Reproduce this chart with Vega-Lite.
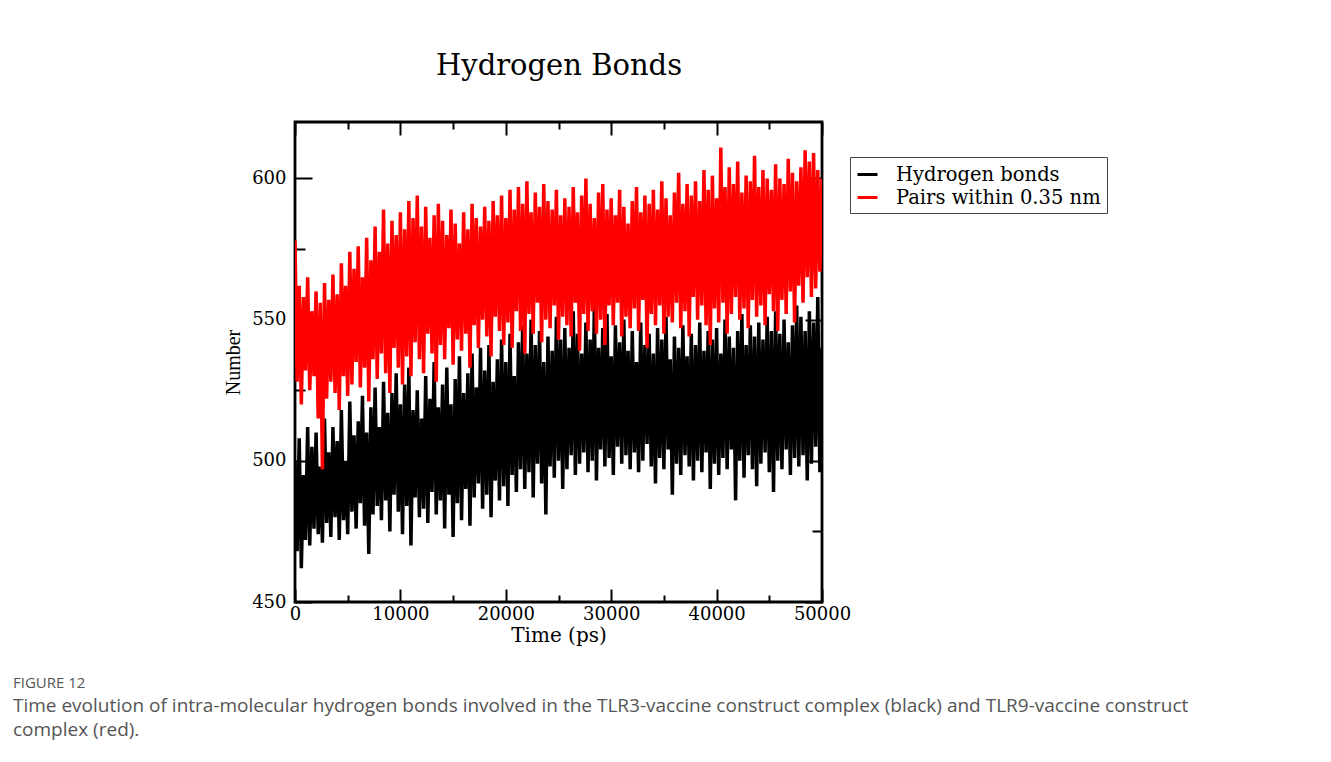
{
  "$schema": "https://vega.github.io/schema/vega-lite/v6.json",
  "width": 527,
  "height": 480,
  "autosize": {"type": "none"},
  "padding": {"left": 295, "top": 122, "right": 509, "bottom": 160},
  "background": "white",
  "config": {
    "view": {"stroke": "#000000", "strokeWidth": 2.8},
    "axis": {"grid": false, "domain": false, "labelFont": "DejaVu Serif", "titleFont": "DejaVu Serif", "labelColor": "#000000", "titleColor": "#000000", "tickColor": "#000000", "tickWidth": 2, "titleFontWeight": "normal", "labelOverlap": false, "labelFlush": false}
  },
  "title": {
    "text": "FIGURE 12",
    "subtitle": ["Time evolution of intra-molecular hydrogen bonds involved in the TLR3-vaccine construct complex (black) and TLR9-vaccine construct", "complex (red)."],
    "orient": "bottom",
    "anchor": "start",
    "frame": "group",
    "dx": -282,
    "offset": 31,
    "font": "Open Sans",
    "fontSize": 15,
    "fontWeight": "normal",
    "color": "#555555",
    "subtitleFont": "Open Sans",
    "subtitleFontSize": 19,
    "subtitleColor": "#555555",
    "subtitleLineHeight": 24,
    "subtitlePadding": 6
  },
  "datasets": {
    "hb": [
      {"t":0,"h":500,"p":578},{"t":200,"h":468,"p":528},{"t":400,"h":508,"p":562},{"t":600,"h":462,"p":520},{"t":800,"h":495,"p":558},{"t":1000,"h":472,"p":532},{"t":1200,"h":512,"p":565},{"t":1400,"h":470,"p":525},{"t":1600,"h":505,"p":553},{"t":1800,"h":476,"p":530},
      {"t":2000,"h":510,"p":560},{"t":2200,"h":474,"p":515},{"t":2400,"h":498,"p":556},{"t":2600,"h":471,"p":497},{"t":2800,"h":515,"p":563},{"t":3000,"h":478,"p":522},{"t":3200,"h":503,"p":557},{"t":3400,"h":473,"p":528},{"t":3600,"h":512,"p":566},{"t":3800,"h":480,"p":524},
      {"t":4000,"h":507,"p":559},{"t":4200,"h":472,"p":518},{"t":4400,"h":518,"p":570},{"t":4600,"h":479,"p":530},{"t":4800,"h":500,"p":562},{"t":5000,"h":474,"p":523},{"t":5200,"h":521,"p":574},{"t":5400,"h":482,"p":527},{"t":5600,"h":509,"p":568},{"t":5800,"h":476,"p":535},
      {"t":6000,"h":514,"p":576},{"t":6200,"h":485,"p":526},{"t":6400,"h":523,"p":565},{"t":6600,"h":477,"p":533},{"t":6800,"h":510,"p":579},{"t":7000,"h":467,"p":521},{"t":7200,"h":519,"p":571},{"t":7400,"h":481,"p":536},{"t":7600,"h":526,"p":583},{"t":7800,"h":484,"p":529},
      {"t":8000,"h":512,"p":574},{"t":8200,"h":479,"p":538},{"t":8400,"h":528,"p":589},{"t":8600,"h":486,"p":531},{"t":8800,"h":517,"p":577},{"t":9000,"h":475,"p":524},{"t":9200,"h":524,"p":585},{"t":9400,"h":488,"p":540},{"t":9600,"h":531,"p":580},{"t":9800,"h":482,"p":533},
      {"t":10000,"h":520,"p":588},{"t":10200,"h":474,"p":527},{"t":10400,"h":527,"p":582},{"t":10600,"h":484,"p":537},{"t":10800,"h":533,"p":592},{"t":11000,"h":470,"p":530},{"t":11200,"h":518,"p":586},{"t":11400,"h":487,"p":542},{"t":11600,"h":525,"p":594},{"t":11800,"h":480,"p":536},
      {"t":12000,"h":515,"p":583},{"t":12200,"h":483,"p":531},{"t":12400,"h":530,"p":590},{"t":12600,"h":478,"p":545},{"t":12800,"h":522,"p":579},{"t":13000,"h":489,"p":538},{"t":13200,"h":535,"p":587},{"t":13400,"h":481,"p":528},{"t":13600,"h":519,"p":591},{"t":13800,"h":486,"p":541},
      {"t":14000,"h":527,"p":585},{"t":14200,"h":476,"p":536},{"t":14400,"h":533,"p":580},{"t":14600,"h":488,"p":547},{"t":14800,"h":520,"p":589},{"t":15000,"h":473,"p":534},{"t":15200,"h":529,"p":584},{"t":15400,"h":485,"p":543},{"t":15600,"h":537,"p":577},{"t":15800,"h":479,"p":539},
      {"t":16000,"h":524,"p":588},{"t":16200,"h":490,"p":545},{"t":16400,"h":531,"p":582},{"t":16600,"h":477,"p":533},{"t":16800,"h":538,"p":591},{"t":17000,"h":487,"p":548},{"t":17200,"h":526,"p":586},{"t":17400,"h":492,"p":540},{"t":17600,"h":540,"p":583},{"t":17800,"h":483,"p":550},
      {"t":18000,"h":532,"p":590},{"t":18200,"h":488,"p":544},{"t":18400,"h":541,"p":585},{"t":18600,"h":480,"p":537},{"t":18800,"h":528,"p":592},{"t":19000,"h":493,"p":551},{"t":19200,"h":536,"p":587},{"t":19400,"h":486,"p":546},{"t":19600,"h":543,"p":594},{"t":19800,"h":491,"p":541},
      {"t":20000,"h":535,"p":586},{"t":20200,"h":484,"p":549},{"t":20400,"h":545,"p":596},{"t":20600,"h":495,"p":540},{"t":20800,"h":530,"p":589},{"t":21000,"h":489,"p":553},{"t":21200,"h":542,"p":597},{"t":21400,"h":497,"p":546},{"t":21600,"h":548,"p":591},{"t":21800,"h":490,"p":538},
      {"t":22000,"h":538,"p":599},{"t":22200,"h":496,"p":552},{"t":22400,"h":550,"p":588},{"t":22600,"h":487,"p":545},{"t":22800,"h":541,"p":595},{"t":23000,"h":499,"p":556},{"t":23200,"h":546,"p":590},{"t":23400,"h":492,"p":542},{"t":23600,"h":535,"p":598},{"t":23800,"h":481,"p":550},
      {"t":24000,"h":544,"p":592},{"t":24200,"h":498,"p":547},{"t":24400,"h":539,"p":589},{"t":24600,"h":494,"p":555},{"t":24800,"h":551,"p":596},{"t":25000,"h":500,"p":543},{"t":25200,"h":543,"p":587},{"t":25400,"h":490,"p":551},{"t":25600,"h":547,"p":593},{"t":25800,"h":497,"p":548},
      {"t":26000,"h":540,"p":590},{"t":26200,"h":502,"p":544},{"t":26400,"h":553,"p":597},{"t":26600,"h":495,"p":556},{"t":26800,"h":545,"p":588},{"t":27000,"h":499,"p":539},{"t":27200,"h":538,"p":594},{"t":27400,"h":503,"p":552},{"t":27600,"h":549,"p":600},{"t":27800,"h":496,"p":546},
      {"t":28000,"h":543,"p":591},{"t":28200,"h":500,"p":553},{"t":28400,"h":555,"p":586},{"t":28600,"h":493,"p":545},{"t":28800,"h":540,"p":595},{"t":29000,"h":504,"p":550},{"t":29200,"h":547,"p":598},{"t":29400,"h":498,"p":541},{"t":29600,"h":552,"p":589},{"t":29800,"h":501,"p":555},
      {"t":30000,"h":537,"p":593},{"t":30200,"h":495,"p":548},{"t":30400,"h":548,"p":587},{"t":30600,"h":505,"p":556},{"t":30800,"h":542,"p":596},{"t":31000,"h":499,"p":544},{"t":31200,"h":550,"p":590},{"t":31400,"h":502,"p":551},{"t":31600,"h":539,"p":584},{"t":31800,"h":497,"p":547},
      {"t":32000,"h":546,"p":592},{"t":32200,"h":503,"p":554},{"t":32400,"h":535,"p":597},{"t":32600,"h":496,"p":546},{"t":32800,"h":549,"p":588},{"t":33000,"h":500,"p":557},{"t":33200,"h":541,"p":594},{"t":33400,"h":506,"p":540},{"t":33600,"h":545,"p":591},{"t":33800,"h":498,"p":552},
      {"t":34000,"h":538,"p":596},{"t":34200,"h":492,"p":548},{"t":34400,"h":547,"p":589},{"t":34600,"h":501,"p":555},{"t":34800,"h":543,"p":599},{"t":35000,"h":497,"p":545},{"t":35200,"h":551,"p":593},{"t":35400,"h":504,"p":551},{"t":35600,"h":536,"p":587},{"t":35800,"h":488,"p":549},
      {"t":36000,"h":544,"p":595},{"t":36200,"h":499,"p":556},{"t":36400,"h":540,"p":602},{"t":36600,"h":495,"p":547},{"t":36800,"h":548,"p":591},{"t":37000,"h":502,"p":553},{"t":37200,"h":537,"p":598},{"t":37400,"h":498,"p":544},{"t":37600,"h":545,"p":594},{"t":37800,"h":493,"p":558},
      {"t":38000,"h":541,"p":599},{"t":38200,"h":500,"p":550},{"t":38400,"h":549,"p":592},{"t":38600,"h":496,"p":555},{"t":38800,"h":539,"p":603},{"t":39000,"h":503,"p":548},{"t":39200,"h":546,"p":596},{"t":39400,"h":490,"p":541},{"t":39600,"h":543,"p":601},{"t":39800,"h":499,"p":554},
      {"t":40000,"h":547,"p":593},{"t":40200,"h":495,"p":549},{"t":40400,"h":538,"p":611},{"t":40600,"h":501,"p":556},{"t":40800,"h":550,"p":597},{"t":41000,"h":497,"p":545},{"t":41200,"h":544,"p":604},{"t":41400,"h":504,"p":552},{"t":41600,"h":540,"p":598},{"t":41800,"h":486,"p":558},
      {"t":42000,"h":546,"p":606},{"t":42200,"h":500,"p":550},{"t":42400,"h":552,"p":595},{"t":42600,"h":494,"p":554},{"t":42800,"h":541,"p":601},{"t":43000,"h":502,"p":547},{"t":43200,"h":548,"p":599},{"t":43400,"h":497,"p":557},{"t":43600,"h":544,"p":608},{"t":43800,"h":491,"p":551},
      {"t":44000,"h":549,"p":597},{"t":44200,"h":499,"p":555},{"t":44400,"h":543,"p":603},{"t":44600,"h":503,"p":548},{"t":44800,"h":551,"p":600},{"t":45000,"h":496,"p":559},{"t":45200,"h":546,"p":596},{"t":45400,"h":489,"p":553},{"t":45600,"h":553,"p":605},{"t":45800,"h":500,"p":546},
      {"t":46000,"h":545,"p":600},{"t":46200,"h":497,"p":557},{"t":46400,"h":550,"p":598},{"t":46600,"h":504,"p":552},{"t":46800,"h":542,"p":607},{"t":47000,"h":495,"p":560},{"t":47200,"h":548,"p":602},{"t":47400,"h":501,"p":549},{"t":47600,"h":555,"p":599},{"t":47800,"h":498,"p":562},
      {"t":48000,"h":551,"p":604},{"t":48200,"h":502,"p":556},{"t":48400,"h":546,"p":610},{"t":48600,"h":493,"p":565},{"t":48800,"h":553,"p":606},{"t":49000,"h":499,"p":558},{"t":49200,"h":549,"p":609},{"t":49400,"h":505,"p":561},{"t":49600,"h":558,"p":603},{"t":49800,"h":496,"p":567},
      {"t":50000,"h":540,"p":600}
    ],
    "ax": [{"t":0,"v":450}]
  },
  "layer": [
    {
      "data": {"name": "hb"},
      "transform": [{"fold": ["h", "p"], "as": ["s", "v"]}],
      "mark": {"type": "line", "strokeWidth": 3.5, "strokeJoin": "bevel", "clip": true},
      "encoding": {
        "x": {"field": "t", "type": "quantitative", "scale": {"domain": [0, 50000], "nice": false, "zero": false},
              "axis": {"orient": "bottom", "values": [0, 10000, 20000, 30000, 40000, 50000], "format": "d", "ticks": false, "labelPadding": 3, "labelFontSize": 18, "title": "Time (ps)", "titleFontSize": 20, "titlePadding": 2}},
        "y": {"field": "v", "type": "quantitative", "scale": {"domain": [450, 620], "nice": false, "zero": false},
              "axis": {"orient": "left", "values": [450, 500, 550, 600], "format": "d", "ticks": false, "labelPadding": 9, "labelFontSize": 18, "title": "Number", "titleFont": "Liberation Serif", "titleFontSize": 20, "titlePadding": 8}},
        "color": {"field": "s", "type": "nominal", "scale": {"domain": ["h", "p"], "range": ["#000000", "#ff0000"]},
                  "legend": {"title": null, "orient": "none", "legendX": 555, "legendY": 35, "symbolType": "stroke", "symbolStrokeWidth": 3, "symbolSize": 400, "labelFont": "DejaVu Serif", "labelFontSize": 19.5, "labelColor": "#000000", "labelExpr": "datum.label == 'h' ? 'Hydrogen bonds' : 'Pairs within 0.35 nm'", "strokeColor": "#444444", "fillColor": "#ffffff", "padding": 6, "rowPadding": 2, "labelOffset": 17, "labelLimit": 0}}
      }
    },
    {
      "data": {"name": "ax"},
      "mark": {"type": "point", "opacity": 0},
      "encoding": {
        "x": {"field": "t", "type": "quantitative", "axis": {"orient": "bottom", "values": [0, 10000, 20000, 30000, 40000, 50000], "labels": false, "tickSize": -13, "title": null}},
        "y": {"field": "v", "type": "quantitative", "axis": {"orient": "left", "values": [450, 500, 550, 600], "labels": false, "tickSize": -17, "title": null}}
      }
    },
    {
      "data": {"name": "ax"},
      "mark": {"type": "point", "opacity": 0},
      "encoding": {
        "x": {"field": "t", "type": "quantitative", "axis": {"orient": "bottom", "values": [5000, 15000, 25000, 35000, 45000], "labels": false, "tickSize": -7, "title": null}},
        "y": {"field": "v", "type": "quantitative", "axis": {"orient": "left", "values": [475, 525, 575], "labels": false, "tickSize": -10, "title": null}}
      }
    },
    {
      "data": {"name": "ax"},
      "mark": {"type": "point", "opacity": 0},
      "encoding": {
        "x": {"field": "t", "type": "quantitative", "axis": {"orient": "top", "values": [0, 10000, 20000, 30000, 40000, 50000], "labels": false, "tickSize": -13, "title": "Hydrogen Bonds", "titleFontSize": 29, "titlePadding": 41}},
        "y": {"field": "v", "type": "quantitative", "axis": {"orient": "right", "values": [450, 500, 550, 600], "labels": false, "tickSize": -17, "title": null}}
      }
    },
    {
      "data": {"name": "ax"},
      "mark": {"type": "point", "opacity": 0},
      "encoding": {
        "x": {"field": "t", "type": "quantitative", "axis": {"orient": "top", "values": [5000, 15000, 25000, 35000, 45000], "labels": false, "tickSize": -7, "title": null}},
        "y": {"field": "v", "type": "quantitative", "axis": {"orient": "right", "values": [475, 525, 575], "labels": false, "tickSize": -10, "title": null}}
      }
    }
  ],
  "resolve": {"axis": {"x": "independent", "y": "independent"}}
}
